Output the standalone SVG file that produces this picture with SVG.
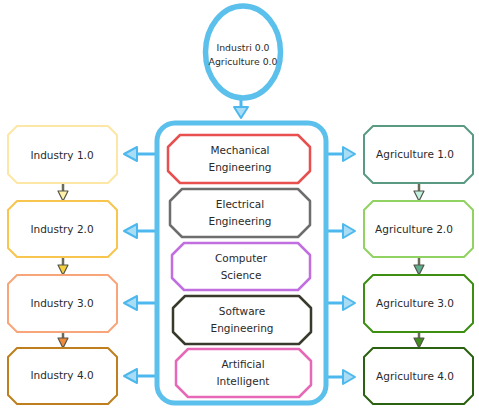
<svg xmlns="http://www.w3.org/2000/svg" width="479" height="413" viewBox="0 0 479 413">
<style>
text{font-family:"DejaVu Sans","Noto Sans",sans-serif;font-size:10.5px;fill:#2a2a2a;text-anchor:middle}
.c{font-size:9.3px}
.n{fill:#fff;stroke-width:2.5;stroke-linejoin:round}
.o{fill:#fff;stroke-width:2;stroke-linejoin:round}
.bl{stroke:#4db8ee;stroke-width:3;fill:none}
.bh{fill:#a9dcf5;stroke:#4db8ee;stroke-width:2;stroke-linejoin:round}
.sh{stroke:#6b6b5a;stroke-width:2.5;fill:none}
.th{stroke:#55554a;stroke-width:1.2;stroke-linejoin:round}
</style>
<rect width="479" height="413" fill="#fff"/>
<g id="connectors">
<line class="bl" x1="241" y1="100" x2="241" y2="108"/>
<path class="bh" d="M234,107 L248,107 L241,118 Z"/>
<line class="bl" x1="155" y1="154" x2="136" y2="154"/>
<path class="bh" d="M137,147 L137,161 L124,154 Z"/>
<line class="bl" x1="155" y1="231" x2="136" y2="231"/>
<path class="bh" d="M137,224 L137,238 L124,231 Z"/>
<line class="bl" x1="155" y1="303" x2="136" y2="303"/>
<path class="bh" d="M137,296 L137,310 L124,303 Z"/>
<line class="bl" x1="155" y1="376" x2="136" y2="376"/>
<path class="bh" d="M137,369 L137,383 L124,376 Z"/>
<line class="bl" x1="327" y1="154" x2="344" y2="154"/>
<path class="bh" d="M343,147 L343,161 L355,154 Z"/>
<line class="bl" x1="327" y1="231" x2="344" y2="231"/>
<path class="bh" d="M343,224 L343,238 L355,231 Z"/>
<line class="bl" x1="327" y1="303" x2="344" y2="303"/>
<path class="bh" d="M343,296 L343,310 L355,303 Z"/>
<line class="bl" x1="327" y1="377" x2="344" y2="377"/>
<path class="bh" d="M343,370 L343,384 L355,377 Z"/>
<line class="sh" x1="63" y1="184" x2="63" y2="192"/>
<path class="th" fill="#fff2a8" d="M58,191 L68,191 L63,201 Z"/>
<line class="sh" x1="63" y1="258" x2="63" y2="266"/>
<path class="th" fill="#f5d23c" d="M58,265 L68,265 L63,275 Z"/>
<line class="sh" x1="63" y1="333" x2="63" y2="339"/>
<path class="th" fill="#f08a3c" d="M58,338 L68,338 L63,348 Z"/>
<line class="sh" x1="419" y1="184" x2="419" y2="192"/>
<path class="th" fill="#c4f2e2" d="M414,191 L424,191 L419,201 Z"/>
<line class="sh" x1="419" y1="258" x2="419" y2="266"/>
<path class="th" fill="#5fae8e" d="M414,265 L424,265 L419,275 Z"/>
<line class="sh" x1="419" y1="333" x2="419" y2="339"/>
<path class="th" fill="#3f8e1e" d="M414,338 L424,338 L419,348 Z"/>
</g>
<g id="root">
<ellipse cx="243" cy="52" rx="37.5" ry="46" fill="#fff" stroke="#5bc0eb" stroke-width="5.5"/>
<text class="c" x="243" y="51">Industri 0.0</text>
<text class="c" x="243" y="65">Agriculture 0.0</text>
</g>
<g id="container">
<rect x="157" y="123" width="169" height="280" rx="18" fill="#fff" stroke="#5bc0eb" stroke-width="5"/>
</g>
<g id="mechanical">
<path class="n" stroke="#e8504f" d="M180,135 L298,135 L310,147 L310,171 L298,183 L180,183 L168,171 L168,147 Z"/>
<text x="240" y="154">Mechanical</text>
<text x="240" y="171">Engineering</text>
</g>
<g id="electrical">
<path class="n" stroke="#6e6e6e" d="M182,189 L298,189 L310,201 L310,225 L298,237 L182,237 L170,225 L170,201 Z"/>
<text x="240" y="208">Electrical</text>
<text x="240" y="225">Engineering</text>
</g>
<g id="computer">
<path class="n" stroke="#c16fe0" d="M184,243 L298,243 L310,255 L310,278 L298,290 L184,290 L172,278 L172,255 Z"/>
<text x="241" y="262">Computer</text>
<text x="241" y="279">Science</text>
</g>
<g id="software">
<path class="n" stroke="#3a3a2c" d="M185,296 L299,296 L311,308 L311,332 L299,344 L185,344 L173,332 L173,308 Z"/>
<text x="242" y="315">Software</text>
<text x="242" y="332">Engineering</text>
</g>
<g id="ai">
<path class="n" stroke="#e868b8" d="M188,349 L299,349 L311,361 L311,385 L299,397 L188,397 L176,385 L176,361 Z"/>
<text x="243" y="368">Artificial</text>
<text x="243" y="385">Intelligent</text>
</g>
<g id="industry1">
<path class="o" stroke="#fde7a6" d="M17,126 L108,126 L117,135 L117,174 L108,183 L17,183 L8,174 L8,135 Z"/>
<text x="62" y="159">Industry 1.0</text>
</g>
<g id="industry2">
<path class="o" stroke="#f8c54e" d="M17,201 L108,201 L117,210 L117,248 L108,257 L17,257 L8,248 L8,210 Z"/>
<text x="62" y="233">Industry 2.0</text>
</g>
<g id="industry3">
<path class="o" stroke="#f9a57a" d="M17,275 L108,275 L117,284 L117,323 L108,332 L17,332 L8,323 L8,284 Z"/>
<text x="62" y="307">Industry 3.0</text>
</g>
<g id="industry4">
<path class="o" stroke="#bf7f1f" d="M17,348 L108,348 L117,357 L117,395 L108,404 L17,404 L8,395 L8,357 Z"/>
<text x="62" y="379">Industry 4.0</text>
</g>
<g id="agriculture1">
<path class="o" stroke="#5b9a82" d="M373,126 L464,126 L473,135 L473,174 L464,183 L373,183 L364,174 L364,135 Z"/>
<text x="415" y="158">Agriculture 1.0</text>
</g>
<g id="agriculture2">
<path class="o" stroke="#92d262" d="M373,201 L464,201 L473,210 L473,248 L464,257 L373,257 L364,248 L364,210 Z"/>
<text x="414" y="233">Agriculture 2.0</text>
</g>
<g id="agriculture3">
<path class="o" stroke="#3d8f12" d="M373,275 L464,275 L473,284 L473,323 L464,332 L373,332 L364,323 L364,284 Z"/>
<text x="415" y="307">Agriculture 3.0</text>
</g>
<g id="agriculture4">
<path class="o" stroke="#2b6112" d="M373,348 L464,348 L473,357 L473,395 L464,404 L373,404 L364,395 L364,357 Z"/>
<text x="415" y="380">Agriculture 4.0</text>
</g>
</svg>
